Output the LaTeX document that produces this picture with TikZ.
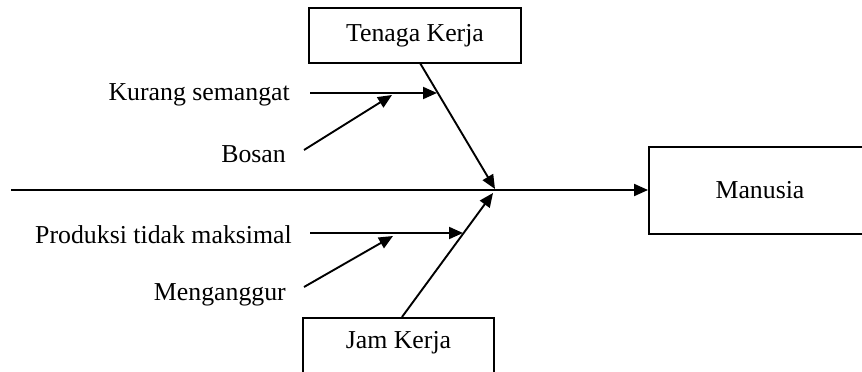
\documentclass[tikz,border=0pt]{standalone}
\usepackage{fontspec}
\setmainfont{Liberation Serif}
\usetikzlibrary{arrows.meta}
\begin{document}
\begin{tikzpicture}[x=1pt,y=-1pt] % fishbone
\tikzstyle{every node} = [font=\fontsize{25.8}{30}\selectfont] % text size
\tikzstyle{box} = [draw, line width=1.9pt, inner sep=0pt] % box style
\tikzstyle{cause} = [inner sep=0pt, anchor=east] % cause text style
\tikzstyle{arr} = [line width=1.9pt, -{Triangle[length=14pt,width=12pt]}] % arrow style
\clip (0,0) rectangle (862,372);
% boxes
\node[box, minimum width=212pt, minimum height=55pt] (tk) at (415,35.5) {Tenaga Kerja};
\node[box, minimum width=222pt, minimum height=87pt] (man) at (760,190.5) {Manusia};
\node[box, anchor=north, minimum width=191pt, inner ysep=11pt, text height=20pt, text depth=40pt] (jk) at (398.5,317) {Jam Kerja};
% causes
\node[cause] (ks) at (290,94.5) {Kurang semangat};
\node[cause] (bs) at (286,154) {Bosan};
\node[cause] (pt) at (292,234.5) {Produksi tidak maksimal};
\node[cause] (mg) at (286,294.5) {Menganggur};
% points on the bones
\coordinate (sp) at (11,190); % tail of spine
\coordinate (apx) at (495,189); % head of upper bone
\coordinate (apy) at (493,193); % head of lower bone
\coordinate (tkb) at (420,63); % foot of upper bone
\coordinate (jkb) at (402,317); % foot of lower bone
\coordinate (ksa) at (310,93);
\coordinate (ksb) at (437,93);
\coordinate (bsa) at (304,150);
\coordinate (bsb) at (392,95);
\coordinate (pta) at (310,233);
\coordinate (ptb) at (463,233);
\coordinate (mga) at (304,287);
\coordinate (mgb) at (393,236);
% spine and bones
\draw[arr] (sp) -- (sp -| man.west);
\draw[arr] (tkb) -- (apx);
\draw[arr] (jkb) -- (apy);
\draw[arr] (ksa) -- (ksb);
\draw[arr] (bsa) -- (bsb);
\draw[arr] (pta) -- (ptb);
\draw[arr] (mga) -- (mgb);
\end{tikzpicture}
\end{document}
